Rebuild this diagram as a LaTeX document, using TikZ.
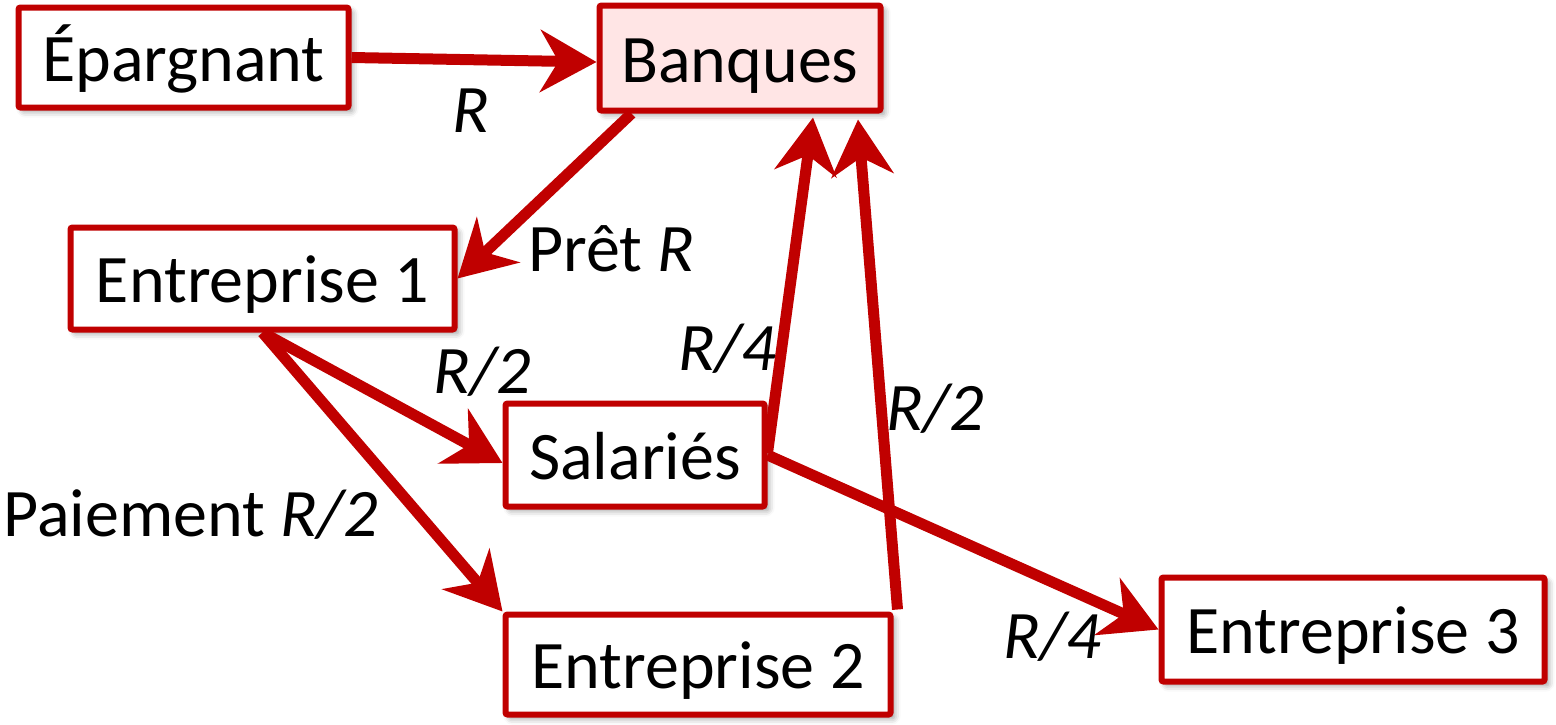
\documentclass[tikz,border=0pt]{standalone}
\usepackage{fontspec}
\setmainfont{Carlito}
\usetikzlibrary{arrows.meta,shadows.blur}
\definecolor{flowred}{RGB}{192,0,0}
\definecolor{bankfill}{RGB}{255,229,229}
\begin{document}
\begin{tikzpicture}[x=0.5pt,y=-0.5pt,
  box/.style={draw=flowred, line width=3pt, rounded corners=1pt, fill=white,
    inner sep=0pt, font=\fontsize{34}{40}\selectfont,
    text height=29pt, text depth=5pt,
    blur shadow={shadow xshift=2pt, shadow yshift=-2pt, shadow blur radius=3pt, shadow opacity=40}},
  flow/.style={draw=flowred, line width=5.5pt,
    -{Stealth[length=28pt,width=31pt,inset=9pt]}},
  lab/.style={font=\fontsize{34}{40}\selectfont, inner sep=0pt, anchor=base west}]
\useasboundingbox (0,0) rectangle (1556,724);

% actors
\node[box, minimum width=165pt, minimum height=50pt] (ep) at (183.5,57.5) {Épargnant};
\node[box, fill=bankfill, minimum width=140.5pt, minimum height=52.5pt] (ban) at (740,58) {Banques};
\node[box, minimum width=192pt, minimum height=51pt] (e1) at (262.5,278.5) {Entreprise 1};
\node[box, minimum width=129.5pt, minimum height=51.5pt] (sal) at (635,455) {Salariés};
\node[box, minimum width=192.5pt, minimum height=50pt] (e2) at (698,664.5) {Entreprise 2};
\node[box, minimum width=191.5pt, minimum height=52pt] (e3) at (1353,629.5) {Entreprise 3};

% money flows
\draw[flow] (ep.east) -- ([yshift=-2pt]ban.west);
\draw[flow] ([xshift=17.5pt]ban.south west) -- (e1.east);
\draw[flow] (e1.south) -- ([yshift=-4pt]sal.west);
\draw[flow] (e1.south) -- (e2.north west);
\draw[flow] ([yshift=1pt]sal.east) -- ([xshift=36.5pt,yshift=-2pt]ban.south);
\draw[flow] ([xshift=2pt,yshift=1pt]e2.north east) -- ([xshift=59pt,yshift=-3pt]ban.south);
\draw[flow] (sal.east) -- (e3.west);

% amounts
\node[lab] (lR) at (452,132) {\itshape R};
\node[lab] (lpret) at (528,271) {Prêt \textit{R}};
\node[lab] (lhalf1) at (433,393) {\textit{R/2}};
\node[lab] (lq1) at (678,370) {\textit{R/4}};
\node[lab] (lhalf2) at (886,430) {\textit{R/2}};
\node[lab] (lpay) at (3,536) {Paiement \textit{R/2}};
\node[lab] (lq2) at (1003,658) {\textit{R/4}};
\end{tikzpicture}
\end{document}
